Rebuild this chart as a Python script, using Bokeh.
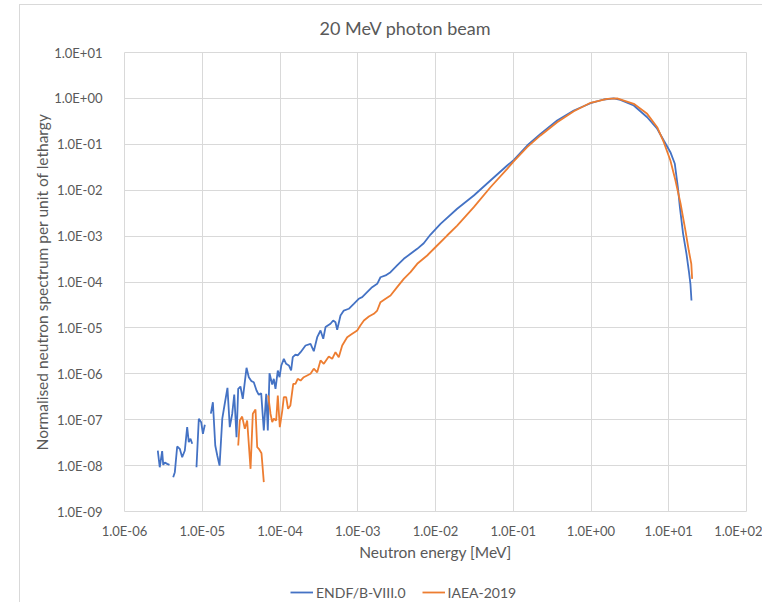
import numpy as np
from bokeh.plotting import figure
from bokeh.layouts import column
from bokeh.models import (FixedTicker, CustomJSTickFormatter, Legend, LegendItem, Range1d)
from bokeh.embed import file_html
from bokeh.resources import INLINE

nan = float("nan")

# ENDF/B-VIII.0 (energy in MeV, normalised spectrum per unit lethargy); nan = gap
endf_energy = [2.68e-6, 2.84e-6, 3.05e-6, 3.15e-6, 3.30e-6, 3.54e-6, 3.79e-6, nan,
               4.23e-6, 4.44e-6, 4.76e-6, 5.14e-6, 5.52e-6, 5.97e-6, 6.40e-6, 6.71e-6, 7.06e-6, 7.43e-6, nan,
               8.43e-6, 9.03e-6, 9.69e-6, 1.02e-5, 1.08e-5, nan,
               1.29e-5, 1.37e-5, 1.47e-5, 1.56e-5, 1.67e-5, 1.81e-5, 1.93e-5, 2.11e-5, 2.26e-5, 2.43e-5,
               2.58e-5, 2.76e-5, 2.90e-5, 3.10e-5, 3.32e-5, 3.71e-5, 3.97e-5, 4.30e-5, 4.60e-5, 4.99e-5,
               5.34e-5, 5.73e-5, 6.19e-5, 6.65e-5, 6.97e-5, 7.33e-5, 7.94e-5, 8.32e-5, 8.75e-5, 9.37e-5,
               9.86e-5, 1.04e-4, 1.12e-4, 1.20e-4, 1.30e-4, 1.39e-4, 1.46e-4, 1.58e-4, 1.69e-4, 1.84e-4,
               2.13e-4, 2.47e-4, 2.72e-4, 3.01e-4, 3.32e-4, 3.60e-4, 3.85e-4, 4.46e-4, 4.83e-4, 5.17e-4,
               5.44e-4, 6.00e-4, 6.62e-4, 7.67e-4, 8.89e-4, 1.03e-3, 1.14e-3, 1.32e-3, 1.53e-3, 1.78e-3,
               1.96e-3, 2.28e-3, 2.64e-3, 3.21e-3, 3.91e-3, 4.77e-3, 5.82e-3, 7.06e-3, 8.63e-3, 1.16e-2,
               1.90e-2, 3.11e-2, 5.09e-2, 8.36e-2, 1.02e-1, 1.51e-1, 2.24e-1, 3.67e-1, 6.01e-1, 9.86e-1,
               1.46, 1.96, 2.39, 3.55, 5.28, 7.10, 8.63, 10.5, 11.97, 13.1, 13.9, 15.3, 16.9, 18.1, 19.0, 19.6]
endf_value = [2.13e-8, 9.2e-9, 2.06e-8, 1.04e-8, 1.17e-8, 1.09e-8, 1.04e-8, nan,
              5.58e-9, 7.18e-9, 2.61e-8, 2.32e-8, 1.52e-8, 2.13e-8, 6.87e-8, 3.24e-8, 3.84e-8, 2.99e-8, nan,
              9.2e-9, 1.05e-7, 8.83e-8, 4.93e-8, 7.74e-8, nan,
              1.35e-7, 2.40e-7, 2.74e-8, 1.66e-8, 1.0e-8, 1.05e-7, 2.04e-7, 4.95e-7, 6.87e-8, 1.35e-7,
              3.54e-7, 4.16e-8, 4.71e-7, 5.28e-7, 2.85e-7, 1.35e-6, 8.43e-7, 6.90e-7, 6.56e-7, 4.33e-7,
              3.48e-7, 3.78e-7, 5.82e-8, 3.66e-7, 5.82e-8, 1.03e-6, 5.85e-7, 7.78e-7, 4.71e-7, 1.18e-6,
              8.43e-7, 1.52e-6, 2.12e-6, 1.65e-6, 1.52e-6, 1.18e-6, 2.30e-6, 2.63e-6, 2.51e-6, 2.96e-6,
              4.14e-6, 4.51e-6, 3.10e-6, 6.27e-6, 8.77e-6, 5.79e-6, 1.04e-5, 1.23e-5, 1.45e-5, 1.33e-5,
              9.10e-6, 1.86e-5, 2.39e-5, 2.61e-5, 3.35e-5, 4.31e-5, 4.67e-5, 6.0e-5, 7.71e-5, 9.14e-5,
              1.27e-4, 1.39e-4, 1.64e-4, 2.29e-4, 3.20e-4, 4.11e-4, 5.28e-4, 7.0e-4, 1.08e-3, 1.85e-3,
              3.94e-3, 7.67e-3, 1.63e-2, 3.45e-2, 4.59e-2, 9.42e-2, 1.69e-1, 3.30e-1, 5.45e-1, 7.85e-1,
              9.46e-1, 1.0, 0.931, 0.700, 0.389, 0.218, 0.121, 6.73e-2, 3.76e-2, 1.16e-2, 4.27e-3, 1.12e-3,
              4.11e-4, 1.78e-4, 9.14e-5, 3.95e-5]

# IAEA-2019
iaea_energy = [2.90e-5, 3.04e-5, 3.26e-5, 3.53e-5, 3.78e-5, 4.18e-5, 4.47e-5, 4.84e-5, 5.09e-5, 5.34e-5,
               5.78e-5, 6.19e-5, nan,
               7.05e-5, 7.55e-5, 7.94e-5, 8.32e-5, 8.93e-5, 9.37e-5, 9.94e-5, 1.07e-4, 1.12e-4, 1.20e-4,
               1.27e-4, 1.36e-4, 1.48e-4, 1.58e-4, 1.69e-4, 1.84e-4, 2.02e-4, 2.47e-4, 2.72e-4, 3.01e-4,
               3.32e-4, 3.66e-4, 4.24e-4, 4.69e-4, 5.17e-4, 5.70e-4, 6.31e-4, 7.31e-4, 8.49e-4, 9.84e-4,
               1.08e-3, 1.20e-3, 1.39e-3, 1.61e-3, 1.78e-3, 1.96e-3, 2.28e-3, 2.64e-3, 3.21e-3, 3.91e-3,
               4.77e-3, 5.82e-3, 7.82e-3, 1.05e-2, 1.41e-2, 1.90e-2, 3.11e-2, 5.09e-2, 8.36e-2, 1.02e-1,
               1.51e-1, 2.24e-1, 3.67e-1, 6.01e-1, 0.986, 1.61, 2.17, 3.55, 5.28, 7.10, 8.63, 10.5, 12.2,
               14.2, 16.4, 18.1, 19.5, 20.0]
iaea_value = [2.74e-8, 9.61e-8, 1.17e-7, 6.34e-8, 9.61e-8, 8.51e-9, 1.35e-7, 1.67e-7, 2.52e-8, 2.32e-8,
              1.86e-8, 4.35e-9, nan,
              3.37e-7, 1.35e-7, 8.83e-8, 1.05e-7, 9.61e-8, 3.37e-7, 6.87e-8, 1.58e-7, 3.09e-7, 3.09e-7,
              1.73e-7, 2.04e-7, 6.05e-7, 6.05e-7, 7.78e-7, 7.14e-7, 8.43e-7, 1.0e-6, 1.29e-6, 1.08e-6,
              1.95e-6, 1.65e-6, 2.38e-6, 2.12e-6, 2.96e-6, 2.30e-6, 4.14e-6, 6.27e-6, 7.43e-6, 8.77e-6,
              1.13e-5, 1.45e-5, 1.77e-5, 2.03e-5, 2.39e-5, 3.63e-5, 4.31e-5, 5.08e-5, 7.71e-5, 1.17e-4,
              1.64e-4, 2.49e-4, 3.78e-4, 6.24e-4, 1.03e-3, 1.70e-3, 4.27e-3, 1.16e-2, 2.92e-2, 4.29e-2,
              8.65e-2, 0.156, 0.303, 0.526, 0.802, 0.98, 1.0, 0.762, 0.461, 0.236, 0.111, 4.44e-2, 1.63e-2,
              5.06e-3, 1.32e-3, 4.85e-4, 2.49e-4, 1.17e-4]

x_ticks = [1e-6, 1e-5, 1e-4, 1e-3, 1e-2, 1e-1, 1e0, 1e1, 1e2]
y_ticks = [1e-9, 1e-8, 1e-7, 1e-6, 1e-5, 1e-4, 1e-3, 1e-2, 1e-1, 1e0, 1e1]

series_names = ["ENDF/B-VIII.0", "IAEA-2019"]
series_colors = ["#4472C4", "#ED7D31"]

TXT = "#595959"
GRID = "#d9d9d9"
FONT = "Lato"

p = figure(width=762, height=575, x_axis_type="log", y_axis_type="log",
           x_range=Range1d(x_ticks[0], x_ticks[-1]), y_range=Range1d(y_ticks[0], y_ticks[-1]),
           output_backend="svg", toolbar_location=None,
           min_border_left=124, min_border_right=16, min_border_top=52, min_border_bottom=64)
p.background_fill_color = "white"
p.border_fill_alpha = 0
p.outline_line_color = GRID

p.title.text = "20 MeV photon beam"
p.title.align = "left"
p.title.offset = 195
p.title.standoff = 27
p.title.text_color = TXT
p.title.text_font = FONT
p.title.text_font_size = "18px"
p.title.text_font_style = "normal"

fmt = CustomJSTickFormatter(code="""
const e = Math.round(Math.log10(tick));
const s = e < 0 ? '-' : '+';
return '1.0E' + s + String(Math.abs(e)).padStart(2, '0');
""")

for ax, ticks in ((p.xaxis[0], x_ticks), (p.yaxis[0], y_ticks)):
    ax.ticker = FixedTicker(ticks=ticks, minor_ticks=[])
    ax.formatter = fmt
    ax.axis_line_color = None
    ax.major_tick_line_color = None
    ax.minor_tick_line_color = None
    ax.major_label_text_color = TXT
    ax.major_label_text_font = FONT
    ax.major_label_text_font_size = "13px"
    ax.axis_label_text_color = TXT
    ax.axis_label_text_font = FONT
    ax.axis_label_text_font_size = "15.5px"
    ax.axis_label_text_font_style = "normal"

p.xaxis.axis_label = "Neutron energy [MeV]"
p.yaxis.axis_label = "Normalised neutron spectrum per unit of lethargy"
p.xaxis.major_label_standoff = 5
p.yaxis.major_label_standoff = 16
p.xaxis.axis_label_standoff = 1
p.yaxis.axis_label_standoff = 0

p.xgrid[0].ticker = FixedTicker(ticks=x_ticks)
p.ygrid[0].ticker = FixedTicker(ticks=y_ticks)
for g in (p.xgrid[0], p.ygrid[0]):
    g.grid_line_color = GRID
    g.grid_line_width = 1

p.line(endf_energy, endf_value, line_color=series_colors[0], line_width=1.8)
p.line(iaea_energy, iaea_value, line_color=series_colors[1], line_width=1.8)

# legend strip below the chart (its frame is aligned with the main frame)
pl = figure(width=762, height=27, output_backend="svg", toolbar_location=None,
            x_range=Range1d(0, 1), y_range=Range1d(0, 1),
            x_axis_location=None, y_axis_location=None,
            min_border_left=0, min_border_right=0, min_border_top=0, min_border_bottom=0)
pl.grid.visible = False
pl.outline_line_color = None
pl.background_fill_alpha = 0
pl.border_fill_alpha = 0
lr = [pl.line([nan], [nan], line_color=c, line_width=1.8) for c in series_colors]
legend = Legend(items=[LegendItem(label=n, renderers=[r]) for n, r in zip(series_names, lr)],
                orientation="horizontal", location=(166, 0),
                padding=0, margin=0, spacing=16, glyph_width=23, label_standoff=3,
                border_line_color=None, background_fill_alpha=0,
                label_text_color=TXT, label_text_font=FONT, label_text_font_size="14px")
pl.add_layout(legend, "center")

# light chart-area border (left and top edges), drawn as a page background
chart_area_style = {
    "background-color": "white",
    "background-image": "linear-gradient(#d9d9d9, #d9d9d9), linear-gradient(#d9d9d9, #d9d9d9)",
    "background-size": "1px 100%, 100% 1px",
    "background-position": "19px 4px, 19px 4px",
    "background-repeat": "no-repeat",
}
layout = column(p, pl, spacing=0, styles=chart_area_style)
open("out.html", "w").write(file_html(layout, INLINE))
